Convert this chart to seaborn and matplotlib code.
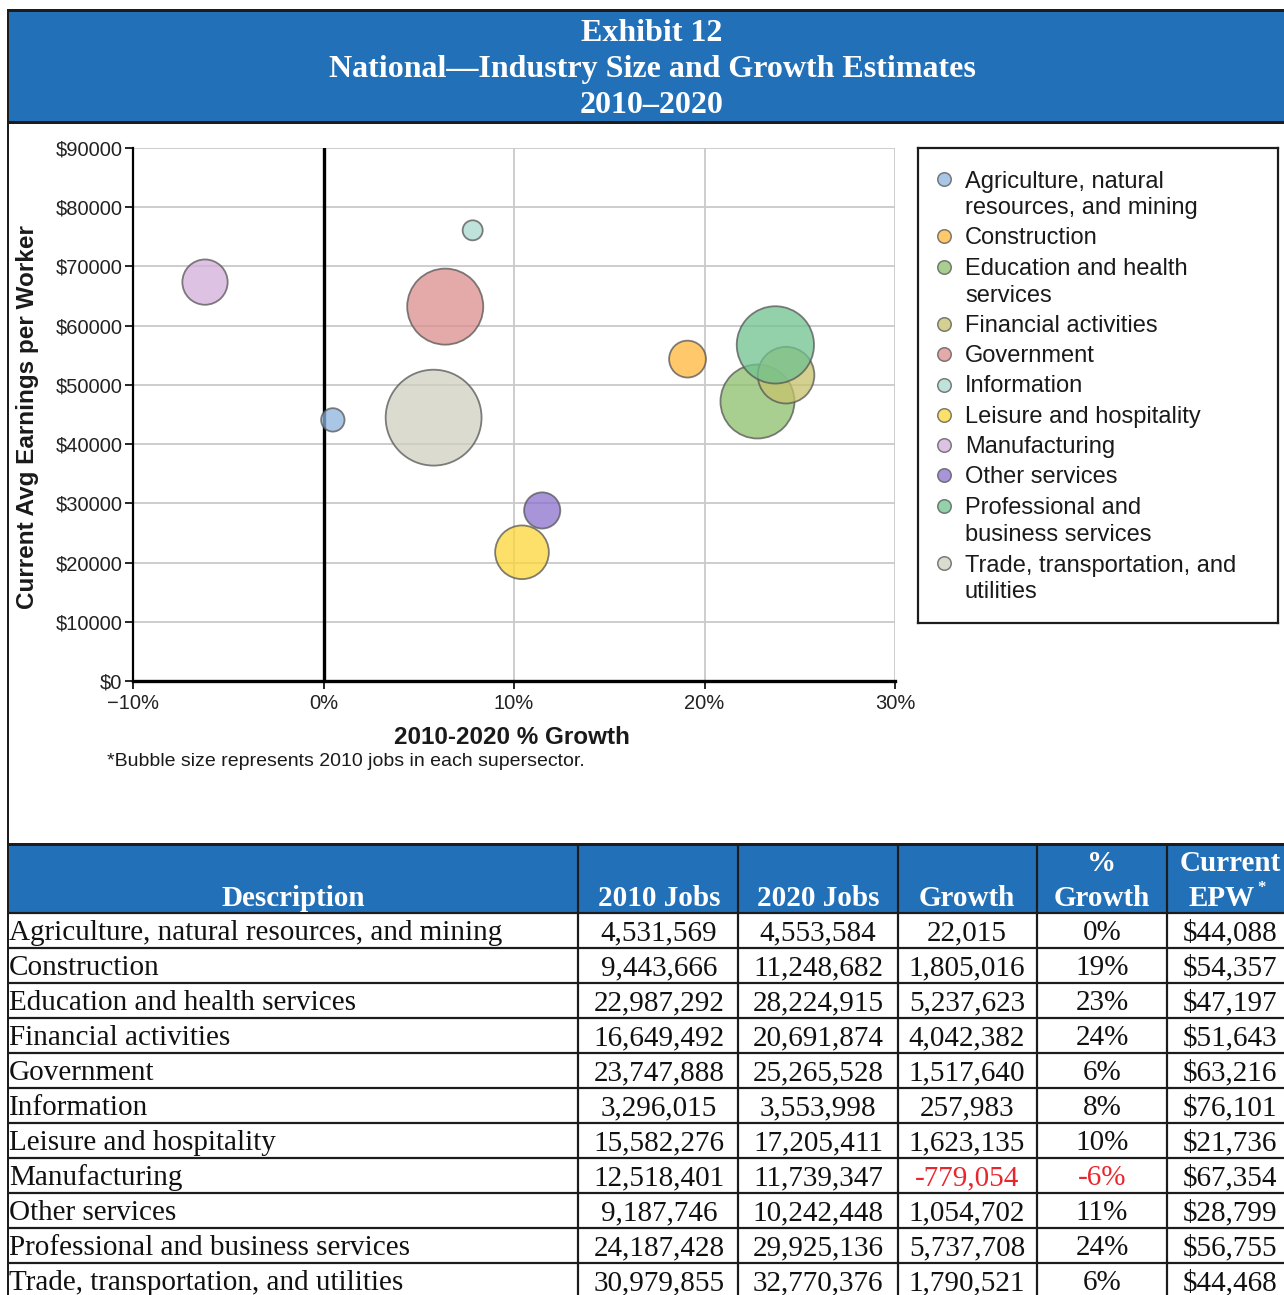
import numpy as np
import pandas as pd
import matplotlib
matplotlib.use("Agg")
import matplotlib.pyplot as plt
from matplotlib.patches import Rectangle
from matplotlib.ticker import FixedLocator, FuncFormatter
import seaborn as sns

# ---------------------------------------------------------------- data
industries = [
    "Agriculture, natural resources, and mining",
    "Construction",
    "Education and health services",
    "Financial activities",
    "Government",
    "Information",
    "Leisure and hospitality",
    "Manufacturing",
    "Other services",
    "Professional and business services",
    "Trade, transportation, and utilities",
]
legend_labels = [
    "Agriculture, natural\nresources, and mining",
    "Construction",
    "Education and health\nservices",
    "Financial activities",
    "Government",
    "Information",
    "Leisure and hospitality",
    "Manufacturing",
    "Other services",
    "Professional and\nbusiness services",
    "Trade, transportation, and\nutilities",
]
jobs_2010 = [4531569, 9443666, 22987292, 16649492, 23747888, 3296015,
             15582276, 12518401, 9187746, 24187428, 30979855]
jobs_2020 = [4553584, 11248682, 28224915, 20691874, 25265528, 3553998,
             17205411, 11739347, 10242448, 29925136, 32770376]
job_growth = [22015, 1805016, 5237623, 4042382, 1517640, 257983,
              1623135, -779054, 1054702, 5737708, 1790521]
growth_pct_label = [0, 19, 23, 24, 6, 8, 10, -6, 11, 24, 6]
growth_pct = [0.49, 19.11, 22.78, 24.28, 6.39, 7.83,
              10.42, -6.22, 11.48, 23.72, 5.78]
epw = [44088, 54357, 47197, 51643, 63216, 76101,
       21736, 67354, 28799, 56755, 44468]

bubble_colors = ["#8CB4DE", "#FFB638", "#8CBF6B", "#C6C26B", "#DC8E8E",
                 "#AADACE", "#FCD638", "#D3AEDB", "#8B70CB", "#6FC28E",
                 "#D0CFC0"]

x_ticks = [-10, 0, 10, 20, 30]
y_ticks = list(range(0, 90001, 10000))

title_lines = ["Exhibit 12",
               "National\u2014Industry Size and Growth Estimates",
               "2010\u20132020"]

df = pd.DataFrame({
    "industry": industries,
    "growth_pct": growth_pct,
    "epw": epw,
    "jobs_2010": jobs_2010,
})

# ---------------------------------------------------------------- style
sns.set_style("white")
plt.rcParams["font.family"] = ["Liberation Sans", "DejaVu Sans"]

SERIF = ["Liberation Serif", "DejaVu Serif"]
BLUE = "#2271B8"
DARK = "#1C1C1C"
RED = "#E8262E"
ALPHA = 0.75

DPI = 100
W, H = 1284, 1295
PX = 72.0 / DPI  # points per pixel

fig = plt.figure(figsize=(W / DPI, H / DPI), dpi=DPI)
fig.patch.set_facecolor("white")

# page layer in pixel units (y grows downward)
page = fig.add_axes([0, 0, 1, 1], zorder=0)
page.set_xlim(0, W)
page.set_ylim(H, 0)
page.axis("off")

# ---------------------------------------------------------------- banner
page.add_patch(Rectangle((8, 11), W - 8, 110, facecolor=BLUE,
                         edgecolor="none"))
page.hlines([9.5, 121.5], 7, W, color=DARK, lw=3 * PX)
page.vlines(8, 9, H, color=DARK, lw=2 * PX)
for text, base in zip(title_lines, [41, 77, 113]):
    page.text(652, base, text, ha="center", va="baseline", color="white",
              fontsize=23, fontweight="bold", family=SERIF)

# ---------------------------------------------------------------- bubble chart
ax = fig.add_axes([133 / W, 1 - 681 / H, 762 / W, 533 / H], zorder=2)

r0, r_per_million = 5.5, 1.37   # bubble radius in px = r0 + k * jobs(M)
size_map = {j: (2 * (r0 + r_per_million * j / 1e6) * PX) ** 2
            for j in jobs_2010}

sns.scatterplot(data=df, x="growth_pct", y="epw", hue="industry",
                palette=dict(zip(industries, bubble_colors)),
                size="jobs_2010", sizes=size_map, alpha=ALPHA,
                edgecolor="#555555", linewidth=1.3, legend=False,
                ax=ax, zorder=3)

ax.set_xlim(-10, 30)
ax.set_ylim(0, 90000)
ax.xaxis.set_major_locator(FixedLocator(x_ticks))
ax.yaxis.set_major_locator(FixedLocator(y_ticks))
ax.xaxis.set_major_formatter(FuncFormatter(
    lambda v, _: f"{v:.0f}%".replace("-", "\u2212")))
ax.yaxis.set_major_formatter(FuncFormatter(lambda v, _: f"${v:.0f}"))
ax.set_axisbelow(True)
ax.grid(True, color="#C9C9C9", lw=1.3)
ax.axvline(0, color="black", lw=2.4, zorder=2)

for side in ("top", "right"):
    ax.spines[side].set_visible(False)
ax.spines["left"].set_color("black")
ax.spines["left"].set_linewidth(1.6)
ax.spines["bottom"].set_color("black")
ax.spines["bottom"].set_linewidth(2.4)
ax.spines["bottom"].set_zorder(4)

ax.tick_params(axis="both", direction="out", length=6, width=1.2,
               color="black", labelsize=14.5, labelcolor="#222222", pad=1.5,
               left=True, bottom=True)
ax.tick_params(axis="x", pad=3.5)

ax.set_xlabel("2010-2020 % Growth", fontsize=17.5, fontweight="bold",
              color="#1A1A1A")
ax.set_ylabel("Current Avg Earnings per Worker", fontsize=17.5,
              fontweight="bold", color="#1A1A1A")
ax.xaxis.label.set_va("center")
ax.yaxis.label.set_va("center")
ax.xaxis.set_label_coords((512 - 133) / 762, (681 - 737) / 533)
ax.yaxis.set_label_coords((28 - 133) / 762, (681 - 417) / 533)

page.text(107, 761, "*Bubble size represents 2010 jobs in each supersector.",
          ha="left", va="center", fontsize=14, color="#1A1A1A")

# ---------------------------------------------------------------- legend box
lax = fig.add_axes([918 / W, 1 - 623 / H, 360 / W, 475 / H], zorder=2)
lax.set_xlim(918, 1278)
lax.set_ylim(623, 148)
lax.set_xticks([])
lax.set_yticks([])
for sp in lax.spines.values():
    sp.set_color(DARK)
    sp.set_linewidth(1.6)

line_pitch = 27.0
y = 179.0
for label, color in zip(legend_labels, bubble_colors):
    extra = label.count("\n")
    lax.scatter([944], [y], s=95, color=color, alpha=ALPHA,
                edgecolor="#555555", linewidth=1.1)
    # baseline alignment follows the last line of a wrapped label
    lax.text(965, y + 8 + line_pitch * extra, label, ha="left",
             va="baseline", fontsize=17, color="#1A1A1A",
             linespacing=1.26)
    y += 30.3 + line_pitch * extra

# ---------------------------------------------------------------- table
col_edges = [8, 578, 738, 898, 1037, 1167, 1292]
col_centers = [659, 818, 967, 1102, 1230]
header_top, header_bot, row_h = 845, 913, 35

page.add_patch(Rectangle((8, header_top), W - 8, header_bot - header_top,
                         facecolor=BLUE, edgecolor="none"))
page.hlines(844, 7, W, color=DARK, lw=3 * PX)
n_rows = len(industries)
page.hlines([header_bot + row_h * k for k in range(n_rows + 1)], 7, W,
            color=DARK, lw=2.2 * PX)
page.vlines(col_edges[1:-1], 843, H, color=DARK, lw=2.2 * PX)

hdr = dict(color="white", fontsize=21, fontweight="bold", family=SERIF,
           va="baseline", ha="center")
page.text(293, 906, "Description", **hdr)
page.text(col_centers[0], 906, "2010 Jobs", **hdr)
page.text(col_centers[1], 906, "2020 Jobs", **hdr)
page.text(col_centers[2], 906, "Growth", **hdr)
page.text(col_centers[3], 871, "%", **hdr)
page.text(col_centers[3], 906, "Growth", **hdr)
page.text(col_centers[4], 871, "Current", **hdr)
page.text(col_centers[4] - 8, 906, "EPW", **hdr)
page.text(1261, 892, "*", color="white", fontsize=12, fontweight="bold",
          family=SERIF, va="baseline", ha="center")

body = dict(fontsize=21, family=SERIF, va="baseline")
for i, name in enumerate(industries):
    base = 940 + row_h * i
    neg = job_growth[i] < 0
    page.text(9, base, name, ha="left", color="#111111", **body)
    cells = [f"{jobs_2010[i]:,}", f"{jobs_2020[i]:,}", f"{job_growth[i]:,}",
             f"{growth_pct_label[i]}%", f"${epw[i]:,}"]
    for c, (cx, txt) in enumerate(zip(col_centers, cells)):
        color = RED if (neg and c in (2, 3)) else "#111111"
        page.text(cx, base, txt, ha="center", color=color, **body)

fig.savefig("out.png", dpi=DPI, facecolor="white")
